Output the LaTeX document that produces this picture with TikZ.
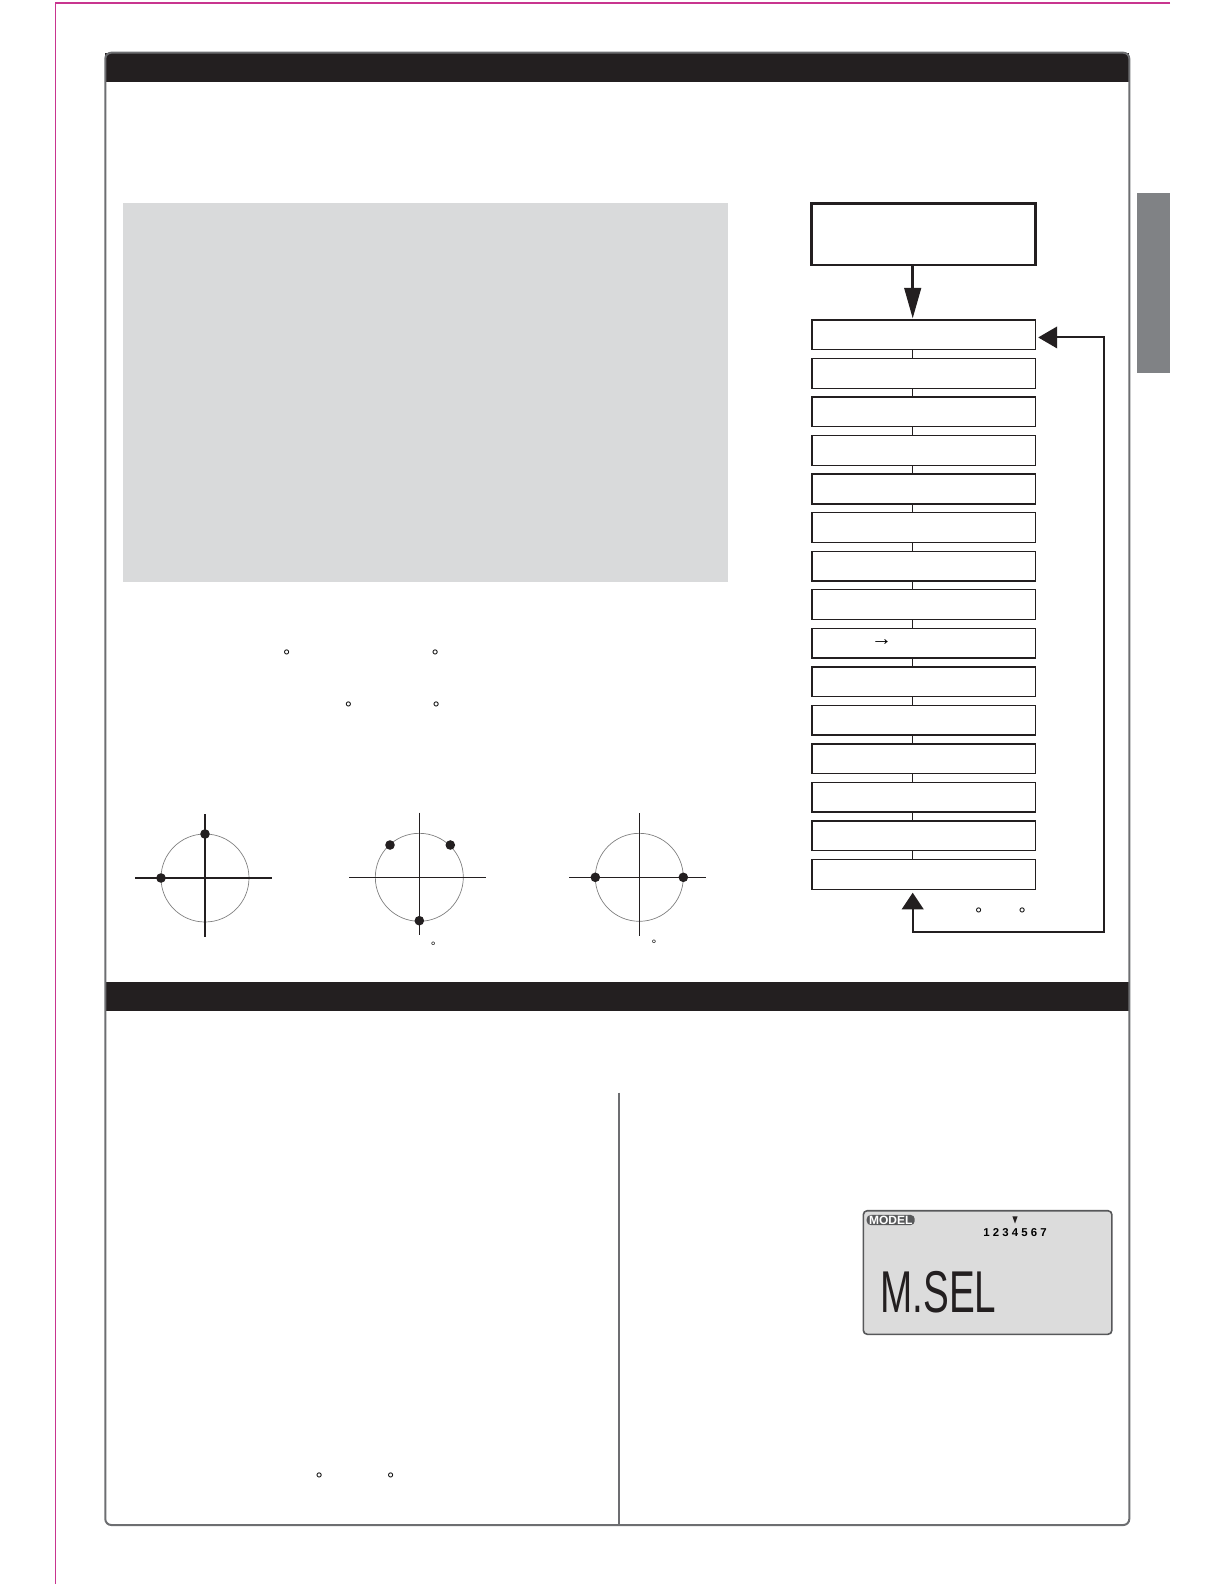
\documentclass[tikz,border=0pt]{standalone}
\usepackage{fontspec}
\newfontfamily\lcdfont{Liberation Sans}
\usetikzlibrary{arrows.meta,positioning}

\definecolor{pagepink}{HTML}{C8358F}
\definecolor{barblack}{HTML}{231F20}
\definecolor{framegray}{HTML}{6D6E71}
\definecolor{notegray}{HTML}{D9DADB}
\definecolor{tabgray}{HTML}{808285}
\definecolor{lcdgray}{HTML}{DCDCDC}
\definecolor{badgegray}{HTML}{58595B}

\tikzset{
  startbox/.style={draw=barblack, line width=1.3pt, minimum width=111.8pt, minimum height=30.8pt, inner sep=0pt, outer sep=0pt},
  menubox/.style={draw=barblack, line width=0.7pt, minimum width=111.7pt, minimum height=14.85pt, inner sep=0pt, outer sep=0pt},
  degree/.style={font=\lcdfont\fontsize{9}{9}\selectfont, inner sep=0pt, yshift=-2pt},
  tinydegree/.style={font=\lcdfont\fontsize{6}{6}\selectfont, inner sep=0pt, yshift=-1.3pt},
  axis/.style={line width=0.6pt, barblack},
  dial/.style={line width=0.35pt, gray},
}

\begin{document}
\begin{tikzpicture}[x=0.5pt, y=-0.5pt]

% Page size (letter, in half points)
\useasboundingbox (0,0) rectangle (1224,1584);

\def\linkshift{-5.4pt} % connectors sit left of the box centre
\def\dotr{4.8} % radius of the stick dots

% Trim marks of the page
\draw[pagepink, line width=0.8pt] (1170,3) -- (55.5,3) -- (55.5,1584);

% Side tab
\fill[tabgray] (1136.7,193.3) rectangle (1170,373.3);

% Header bars and the frame round both sections
\fill[barblack] (105.3,52.7) rectangle (1129.3,81.7);
\fill[barblack] (105.3,981.6) rectangle (1129.3,1011);
\draw[framegray, line width=1pt, rounded corners=3pt] (105.3,52.7) rectangle (1129.3,1525);
\draw[framegray, line width=1pt] (619,1092.7) -- (619,1525);

% Grey note box
\fill[notegray] (123.3,203.3) rectangle (728.3,581.7);

% Degree signs in the text
\node[degree] (deg1) at (286.8,652.4) {°};
\node[degree] (deg2) at (435.3,652.4) {°};
\node[degree] (deg3) at (348.4,703.9) {°};
\node[degree] (deg4) at (436.3,703.9) {°};
\node[degree] (deg5) at (319.1,1475.5) {°};
\node[degree] (deg6) at (390.8,1475.5) {°};

% Stick positions: first dial
\draw[dial] (205,878) circle (44);
\draw[axis] (135,878) -- (272,878);
\draw[axis, line width=1.3pt] (205,814) -- (205,937);
\fill[barblack] (205,834) circle (\dotr);
\fill[barblack] (161,878) circle (\dotr);

% Second dial
\draw[dial] (419.3,877.3) circle (44);
\draw[axis] (349,877.3) -- (486,877.3);
\draw[axis] (419.3,812.7) -- (419.3,935);
\fill[barblack] (390,845) circle (\dotr);
\fill[barblack] (450.3,845) circle (\dotr);
\fill[barblack] (419.3,920.7) circle (\dotr);
\node[tinydegree] (deg7) at (433.3,943.3) {°};

% Third dial
\draw[dial] (639.3,877.3) circle (44);
\draw[axis] (569.3,877.3) -- (706,877.3);
\draw[axis] (639.3,813.3) -- (639.3,935.7);
\fill[barblack] (595.3,877.3) circle (\dotr);
\fill[barblack] (683.3,877.3) circle (\dotr);
\node[tinydegree] (deg8) at (654,941.7) {°};

% Menu flow
\node[startbox] (start) at (923.5,234.2) {};
\node[menubox, below=27.5pt of start] (b1) {};
\begin{scope}[node distance=4.42pt]
\node[menubox, below=of b1] (b2) {};
\node[menubox, below=of b2] (b3) {};
\node[menubox, below=of b3] (b4) {};
\node[menubox, below=of b4] (b5) {};
\node[menubox, below=of b5] (b6) {};
\node[menubox, below=of b6] (b7) {};
\node[menubox, below=of b7] (b8) {};
\node[menubox, below=of b8] (b9) {};
\node[menubox, below=of b9] (b10) {};
\node[menubox, below=of b10] (b11) {};
\node[menubox, below=of b11] (b12) {};
\node[menubox, below=of b12] (b13) {};
\node[menubox, below=of b13] (b14) {};
\node[menubox, below=of b14] (b15) {};
\end{scope}
\node[font=\lcdfont\fontsize{10.5}{10.5}\selectfont, inner sep=0pt] (arr) at (881.7,643) {→};

% Links between the menu boxes
\draw[barblack, line width=0.7pt]
  ([xshift=\linkshift]b1.south) -- ([xshift=\linkshift]b2.north)
  ([xshift=\linkshift]b2.south) -- ([xshift=\linkshift]b3.north)
  ([xshift=\linkshift]b3.south) -- ([xshift=\linkshift]b4.north)
  ([xshift=\linkshift]b4.south) -- ([xshift=\linkshift]b5.north)
  ([xshift=\linkshift]b5.south) -- ([xshift=\linkshift]b6.north)
  ([xshift=\linkshift]b6.south) -- ([xshift=\linkshift]b7.north)
  ([xshift=\linkshift]b7.south) -- ([xshift=\linkshift]b8.north)
  ([xshift=\linkshift]b8.south) -- ([xshift=\linkshift]b9.north)
  ([xshift=\linkshift]b9.south) -- ([xshift=\linkshift]b10.north)
  ([xshift=\linkshift]b10.south) -- ([xshift=\linkshift]b11.north)
  ([xshift=\linkshift]b11.south) -- ([xshift=\linkshift]b12.north)
  ([xshift=\linkshift]b12.south) -- ([xshift=\linkshift]b13.north)
  ([xshift=\linkshift]b13.south) -- ([xshift=\linkshift]b14.north)
  ([xshift=\linkshift]b14.south) -- ([xshift=\linkshift]b15.north);

% Entry arrow and the loop back to the top
\draw[barblack, line width=1.3pt, -{Triangle[width=8.3pt,length=15.3pt]}, shorten >=0.8pt]
  ([xshift=\linkshift]start.south) -- ([xshift=\linkshift]b1.north);
\coordinate (loopcorner) at (1104.3,931.7);
\draw[barblack, line width=1pt, {Triangle[width=10.8pt,length=8.3pt]}-{Triangle[width=10.8pt,length=9.5pt]}, shorten <=1.7pt, shorten >=1.5pt]
  ([xshift=\linkshift]b15.south) |- (loopcorner) |- ([yshift=-1.3pt]b1.east);
\node[degree] (deg9) at (978.7,910.3) {°};
\node[degree] (deg10) at (1022.3,910.3) {°};

% LCD screen
\node[draw=framegray!80!black, fill=lcdgray, line width=0.8pt, rounded corners=2pt, minimum width=124.3pt, minimum height=61.8pt, inner sep=0pt] (lcd) at (987.6,1272.5) {};
\node[fill=badgegray, rounded corners=2pt, text=white, font=\lcdfont\bfseries\fontsize{6}{6}\selectfont, minimum width=24pt, minimum height=5pt, inner sep=0.4pt] (badge) at (890.7,1220) {MODEL};
\node[font=\lcdfont\bfseries\fontsize{5.7}{6}\selectfont, inner sep=0pt] (slots) at (1015,1232.5) {1 2 3 4 5 6 7};
\fill[barblack] (1012.4,1216.3) -- (1017.6,1216.3) -- (1015,1223.5) -- cycle;
\node[anchor=south west, inner sep=0pt, text=barblack] (msel) at (880,1313.3) {\scalebox{0.655}[1]{\lcdfont\fontsize{29.5}{30}\selectfont M.SEL}};

\end{tikzpicture}
\end{document}
